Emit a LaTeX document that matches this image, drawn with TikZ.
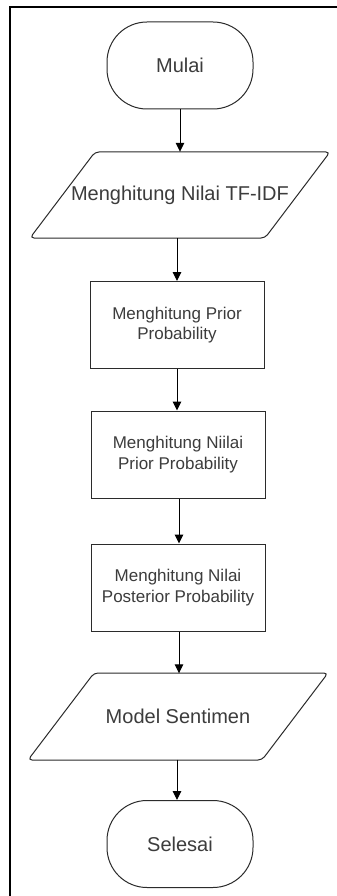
\documentclass[tikz,border=0pt]{standalone}
\usepackage{fontspec}
\setmainfont{Liberation Sans}
\usetikzlibrary{arrows.meta,calc}
\definecolor{inkline}{HTML}{2B2B2B}
\definecolor{inktext}{HTML}{3C3C3C}
\tikzset{
  big/.style={font=\fontsize{20}{24}\selectfont, text=inktext},
  small/.style={font=\fontsize{17}{20.5}\selectfont, text=inktext, align=center},
  terminal/.style={draw=inkline, line width=1pt, rounded corners=40pt,
    minimum width=146pt, minimum height=87pt, inner sep=0pt, big},
  procbox/.style={draw=inkline, line width=1pt, minimum width=174pt,
    minimum height=87pt, inner sep=0pt, small},
  ioframe/.style={minimum width=300pt, minimum height=86pt, inner sep=0pt, big},
  ioshape/.style={draw=inkline, line width=1pt, rounded corners=4pt},
  flow/.style={draw=black, line width=1pt, -{Triangle[length=9pt,width=8.5pt]}},
  frame/.style={draw=black, line width=2pt}
}
\begin{document}
\begin{tikzpicture}[x=1pt,y=-1pt]
\useasboundingbox (0,0) rectangle (337,896);
\fill[white] (0,0) rectangle (337,896);

% page frame (top and left edges)
\coordinate (frameTR) at (337,7);
\coordinate (frameTL) at (10,7);
\coordinate (frameBL) at (10,896);
\draw[frame] (frameTR) -- (frameTL) -- (frameBL);

% start
\node[terminal] (start) at (180,65.5) {Mulai};

% TF-IDF input/output
\node[ioframe] (tfidf) at (180,195) {Menghitung Nilai TF-IDF};
\draw[ioshape] (30,238) -- (95,152) -- (330,152) -- (265,238) -- cycle;

% processing steps
\node[procbox] (prior) at (177,325) {Menghitung Prior\\Probability};
\node[procbox] (niilai) at (178,454.5) {Menghitung Niilai\\Prior Probability};
\node[procbox] (post) at (178,587.5) {Menghitung Nilai\\Posterior Probability};

% model output
\node[ioframe] (model) at (178,716.5) {Model Sentimen};
\draw[ioshape] (28,760) -- (94,673) -- (328,673) -- (262,760) -- cycle;

% end
\node[terminal] (stop) at (180,844) {Selesai};

% connector start points
\coordinate (c1) at (start.south);
\coordinate (c2) at ($(tfidf.south)+(-3,0)$);
\coordinate (c3) at (prior.south);
\coordinate (c4) at ($(niilai.south)+(1,0)$);
\coordinate (c5) at ($(post.south)+(1,0)$);
\coordinate (c6) at ($(model.south)+(-1,0)$);

% connectors
\draw[flow] (c1) -- (c1 |- tfidf.north);
\draw[flow] (c2) -- (c2 |- prior.north);
\draw[flow] (c3) -- (c3 |- niilai.north);
\draw[flow] (c4) -- (c4 |- post.north);
\draw[flow] (c5) -- (c5 |- model.north);
\draw[flow] (c6) -- (c6 |- stop.north);
\end{tikzpicture}
\end{document}
